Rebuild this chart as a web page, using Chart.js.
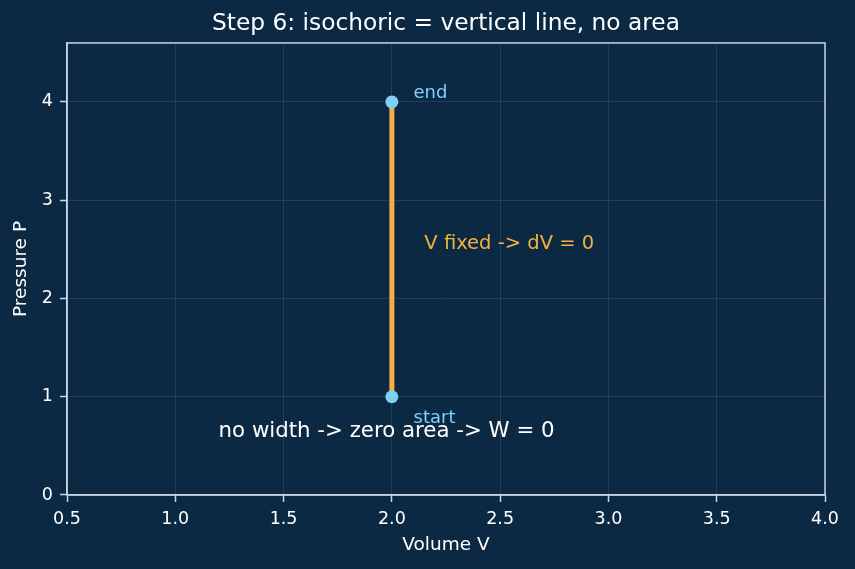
<!DOCTYPE html>
<html>
<head>
<meta charset="utf-8">
<script src="https://cdn.jsdelivr.net/npm/chart.js@4.4.0/dist/chart.umd.min.js"></script>
<style>
    html, body { margin: 0; padding: 0; background: #0b2942; }
    #wrap { width: 855px; height: 569px; }
</style>
</head>
<body>
<div id="wrap"><canvas id="pvChart"></canvas></div>
<script>
// isochoric step: volume stays fixed while pressure rises
var volume = [2.0, 2.0];
var pressure = [1.0, 4.0];

// text notes placed in data coordinates (left aligned, baseline)
var noteText = ['end', 'start', 'V fixed -> dV = 0', 'no width -> zero area -> W = 0'];
var noteV = [2.1, 2.1, 2.15, 1.2];
var noteP = [4.04, 0.73, 2.5, 0.59];
var noteColor = ['#7fd0ff', '#7fd0ff', '#f5b041', '#ffffff'];
var noteSize = [18, 18, 19.5, 21.3];

var BG = '#0b2942';
var SPINE = '#c7d6e4';
var FONT = "'DejaVu Sans', sans-serif";

var backgroundPlugin = {
    id: 'bg',
    beforeDraw: function (chart) {
        var ctx = chart.ctx;
        ctx.save();
        ctx.fillStyle = BG;
        ctx.fillRect(0, 0, chart.width, chart.height);
        ctx.restore();
    }
};

var framePlugin = {
    id: 'frame',
    afterDatasetsDraw: function (chart) {
        var ctx = chart.ctx;
        var a = chart.chartArea;
        var x = chart.scales.x, y = chart.scales.y;
        ctx.save();
        ctx.strokeStyle = SPINE;
        ctx.lineWidth = 1.5;
        ctx.strokeRect(a.left, a.top, a.right - a.left, a.bottom - a.top);
        ctx.textAlign = 'left';
        ctx.textBaseline = 'alphabetic';
        for (var i = 0; i < noteText.length; i++) {
            ctx.font = noteSize[i] + 'px ' + FONT;
            ctx.fillStyle = noteColor[i];
            ctx.fillText(noteText[i], x.getPixelForValue(noteV[i]), y.getPixelForValue(noteP[i]));
        }
        ctx.restore();
    }
};

new Chart(document.getElementById('pvChart'), {
    type: 'line',
    data: {
        labels: volume,
        datasets: [{
            data: volume.map(function (v, i) { return {x: v, y: pressure[i]}; }),
            borderColor: '#f5b041',
            borderWidth: 5,
            pointRadius: 6.5,
            pointBackgroundColor: '#7fd0f8',
            pointBorderWidth: 0,
            fill: false,
            tension: 0
        }]
    },
    options: {
        responsive: true,
        maintainAspectRatio: false,
        animation: false,
        layout: {padding: {left: 0, right: 30, top: 0, bottom: 0}},
        plugins: {
            legend: {display: false},
            tooltip: {enabled: false},
            title: {
                display: true,
                fullSize: false,
                text: 'Step 6: isochoric = vertical line, no area',
                color: '#ffffff',
                font: {family: FONT, size: 23.3, weight: 'normal'},
                padding: {top: 10, bottom: 5}
            }
        },
        scales: {
            x: {
                type: 'linear',
                min: 0.5,
                max: 4.0,
                afterFit: function (s) { s.height = 74; },
                ticks: {
                    stepSize: 0.5,
                    includeBounds: false,
                    color: '#ffffff',
                    padding: 7,
                    font: {family: FONT, size: 17.5},
                    callback: function (v) { return v.toFixed(1); }
                },
                grid: {
                    color: 'rgba(255,255,255,0.13)',
                    lineWidth: 0.8,
                    tickColor: SPINE,
                    tickLength: 7,
                    tickWidth: 1.5
                },
                border: {color: SPINE, width: 1.5},
                title: {
                    display: true,
                    text: 'Volume V',
                    color: '#ffffff',
                    font: {family: FONT, size: 18.5},
                    padding: {top: 0, bottom: 13}
                }
            },
            y: {
                min: 0,
                max: 4.6,
                afterFit: function (s) { s.width = 67; },
                ticks: {
                    stepSize: 1,
                    includeBounds: false,
                    color: '#ffffff',
                    padding: 7,
                    font: {family: FONT, size: 17.5}
                },
                grid: {
                    color: 'rgba(255,255,255,0.13)',
                    lineWidth: 0.8,
                    tickColor: SPINE,
                    tickLength: 7,
                    tickWidth: 1.5
                },
                border: {color: SPINE, width: 1.5},
                title: {
                    display: true,
                    text: 'Pressure P',
                    color: '#ffffff',
                    font: {family: FONT, size: 18.5},
                    padding: {top: 10.5, bottom: 0}
                }
            }
        }
    },
    plugins: [backgroundPlugin, framePlugin]
});
</script>
</body>
</html>
